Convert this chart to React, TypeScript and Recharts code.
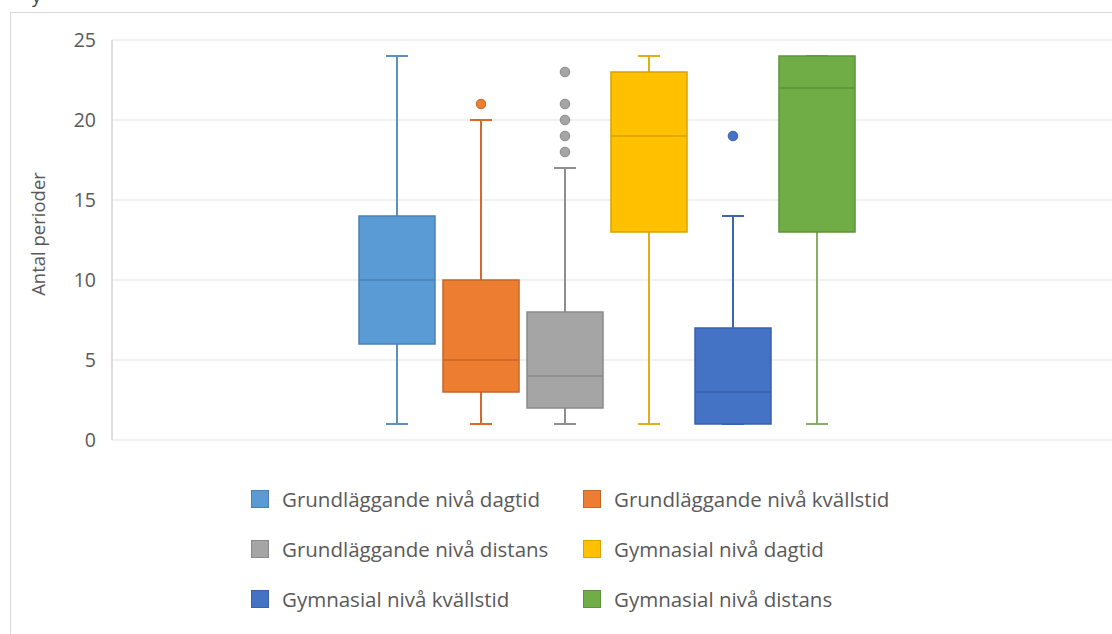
import React from 'react';
import { BarChart, Bar, XAxis, YAxis, CartesianGrid, Label } from 'recharts';

const seriesNames = [
  'Grundläggande nivå dagtid',
  'Grundläggande nivå kvällstid',
  'Grundläggande nivå distans',
  'Gymnasial nivå dagtid',
  'Gymnasial nivå kvällstid',
  'Gymnasial nivå distans',
];
const whiskerMin = [1, 1, 1, 1, 1, 1];
const quartile1 = [6, 3, 2, 13, 1, 13];
const medians = [10, 5, 4, 19, 3, 22];
const quartile3 = [14, 10, 8, 23, 7, 24];
const whiskerMax = [24, 20, 17, 24, 14, 24];
const outliers = [[], [21], [18, 19, 20, 21, 23], [], [19], []];
const yTicks = [0, 5, 10, 15, 20, 25];

const fills = ['#5B9BD5', '#ED7D31', '#A5A5A5', '#FFC000', '#4472C4', '#70AD47'];
const edges = ['#4A80B5', '#C4652A', '#8A8A8A', '#D9A200', '#3A61A8', '#5E9239'];
const whiskers = ['#5A8FC8', '#D76A2A', '#8E8E8E', '#E6AC14', '#3D65B0', '#86AD6A'];

// one category row, each series as a [min, max] range bar
const row: Record<string, any> = { cat: '' };
seriesNames.forEach((_, i) => {
  row['s' + i] = [whiskerMin[i], whiskerMax[i]];
});
const data = [row];

const makeBox = (i: number) => (props: any) => {
  const { x, y, width, height } = props;
  const top = Math.min(y, y + height);
  const h = Math.abs(height);
  const ppu = h / (whiskerMax[i] - whiskerMin[i]);
  const py = (v: number) => top + (whiskerMax[i] - v) * ppu;
  const cx = x + width / 2;
  const cap = 11;
  return (
    <g>
      <line x1={cx} x2={cx} y1={py(whiskerMax[i])} y2={py(quartile3[i])} stroke={whiskers[i]} strokeWidth={2} />
      <line x1={cx} x2={cx} y1={py(quartile1[i])} y2={py(whiskerMin[i])} stroke={whiskers[i]} strokeWidth={2} />
      <line x1={cx - cap} x2={cx + cap} y1={py(whiskerMax[i])} y2={py(whiskerMax[i])} stroke={whiskers[i]} strokeWidth={2} />
      <line x1={cx - cap} x2={cx + cap} y1={py(whiskerMin[i])} y2={py(whiskerMin[i])} stroke={whiskers[i]} strokeWidth={2} />
      <rect
        x={x}
        y={py(quartile3[i])}
        width={width}
        height={py(quartile1[i]) - py(quartile3[i])}
        fill={fills[i]}
        stroke={edges[i]}
        strokeWidth={1.5}
      />
      <line x1={x} x2={x + width} y1={py(medians[i])} y2={py(medians[i])} stroke={edges[i]} strokeWidth={1.5} />
      {outliers[i].map((o) => (
        <circle key={o} cx={cx} cy={py(o)} r={4.8} fill={fills[i]} stroke={edges[i]} strokeWidth={1} />
      ))}
    </g>
  );
};

const App: React.FC = () => {
  return (
    <div
      style={{
        position: 'fixed',
        left: 0,
        top: 0,
        width: 1112,
        height: 634,
        overflow: 'hidden',
        background: '#fff',
        fontFamily: '"Open Sans", sans-serif',
      }}
    >
      <div style={{ position: 'absolute', left: 32, top: -14, fontSize: 18, lineHeight: '20px', color: '#404040' }}>y</div>
      <div
        style={{
          position: 'absolute',
          left: 10,
          top: 12,
          width: 1120,
          height: 640,
          borderLeft: '1px solid #d9d9d9',
          borderTop: '1px solid #d9d9d9',
        }}
      />
      <div style={{ position: 'absolute', left: 0, top: 0 }}>
        <BarChart
          width={1112}
          height={634}
          data={data}
          margin={{ top: 40, right: 0, left: 0, bottom: 194 }}
          barSize={76}
          barGap={8}
        >
          <CartesianGrid vertical={false} stroke="#ececec" strokeWidth={1.5} />
          <XAxis dataKey="cat" hide padding={{ left: 0, right: 10 }} />
          <YAxis
            width={112}
            domain={[0, 25]}
            ticks={yTicks}
            tickLine={false}
            tickSize={0}
            tickMargin={16}
            axisLine={{ stroke: '#d0d0d0', strokeWidth: 1.5 }}
            tick={{ fontSize: 19.5, fill: '#595959', fontFamily: '"Open Sans", sans-serif' }}
          >
            <Label
              content={(p: any) => {
                const vb = p.viewBox || { x: 0, y: 40, height: 400 };
                const lx = 45;
                const ly = vb.y + vb.height / 2 - 6;
                return (
                  <text
                    x={lx}
                    y={ly}
                    transform={`rotate(-90, ${lx}, ${ly})`}
                    textAnchor="middle"
                    fontSize={18.5}
                    fill="#595959"
                    fontFamily='"Open Sans", sans-serif'
                  >
                    Antal perioder
                  </text>
                );
              }}
            />
          </YAxis>
          {seriesNames.map((name, i) => (
            <Bar
              key={name}
              dataKey={'s' + i}
              name={name}
              fill={fills[i]}
              shape={makeBox(i)}
              activeBar={false}
              isAnimationActive={false}
            />
          ))}
        </BarChart>
      </div>
      <div
        style={{
          position: 'absolute',
          left: 251,
          top: 474,
          display: 'grid',
          gridTemplateColumns: '332px 332px',
        }}
      >
        {seriesNames.map((name, i) => (
          <div key={name} style={{ display: 'flex', alignItems: 'center', height: 50 }}>
            <span
              style={{
                display: 'inline-block',
                boxSizing: 'border-box',
                width: 18,
                height: 18,
                background: fills[i],
                border: `1px solid ${edges[i]}`,
                marginRight: 13,
              }}
            />
            <span style={{ fontSize: 20.5, color: '#595959', whiteSpace: 'nowrap' }}>{name}</span>
          </div>
        ))}
      </div>
    </div>
  );
};

export default App;
